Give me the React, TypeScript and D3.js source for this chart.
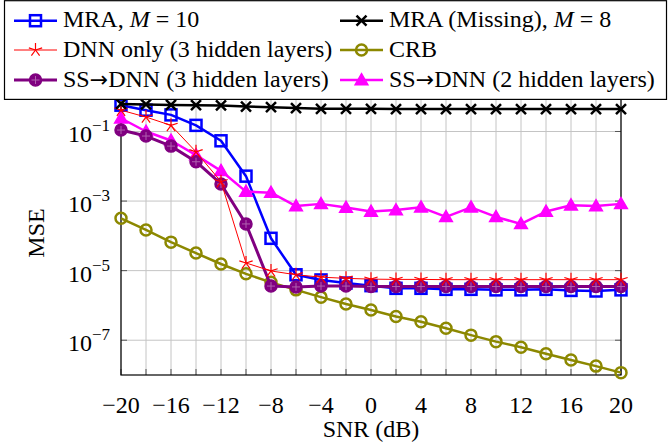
import React from "react";
import * as d3 from "d3";

const snr = [-20, -18, -16, -14, -12, -10, -8, -6, -4, -2, 0, 2, 4, 6, 8, 10, 12, 14, 16, 18, 20];

const mra10 = [0.57, 0.41, 0.3, 0.15, 0.054, 5.2e-3, 8.5e-5, 7.6e-6, 5.4e-6, 4.4e-6, 3.7e-6, 3.1e-6, 3.1e-6, 2.9e-6, 2.9e-6, 2.8e-6, 2.8e-6, 2.9e-6, 2.7e-6, 2.6e-6, 2.8e-6];
const mraMissing = [0.62, 0.6, 0.58, 0.57, 0.56, 0.52, 0.5, 0.47, 0.45, 0.45, 0.45, 0.44, 0.44, 0.44, 0.44, 0.44, 0.44, 0.44, 0.44, 0.44, 0.44];
const dnnOnly = [0.41, 0.26, 0.15, 0.026, 3.6e-3, 1.66e-5, 9.8e-6, 7.6e-6, 6.5e-6, 6.0e-6, 5.7e-6, 5.6e-6, 5.6e-6, 5.5e-6, 5.5e-6, 5.5e-6, 5.5e-6, 5.5e-6, 5.5e-6, 5.5e-6, 5.5e-6];
const crb = [3.2e-4, 1.48e-4, 6.6e-5, 3.2e-5, 1.55e-5, 8.1e-6, 4.6e-6, 2.8e-6, 1.73e-6, 1.1e-6, 7.4e-7, 4.8e-7, 3.4e-7, 2.2e-7, 1.4e-7, 9.1e-8, 6.3e-8, 4.1e-8, 2.7e-8, 1.8e-8, 1.17e-8];
const ss3 = [0.11, 0.074, 0.038, 0.0135, 3.1e-3, 2.2e-4, 3.6e-6, 3.4e-6, 3.6e-6, 3.6e-6, 3.5e-6, 3.5e-6, 3.5e-6, 3.5e-6, 3.5e-6, 3.5e-6, 3.5e-6, 3.5e-6, 3.5e-6, 3.5e-6, 3.5e-6];
const ss2 = [0.24, 0.1, 0.055, 0.021, 7.4e-3, 1.87e-3, 1.74e-3, 7.2e-4, 8.3e-4, 6.5e-4, 5.0e-4, 5.5e-4, 6.6e-4, 3.5e-4, 6.6e-4, 3.5e-4, 2.2e-4, 5.0e-4, 7.6e-4, 7.2e-4, 8.3e-4];

const xTickLabels = [-20, -16, -12, -8, -4, 0, 4, 8, 12, 16, 20];
const yTickExps = [-1, -3, -5, -7];

const serif = { fontFamily: '"Liberation Serif"' };
const arrowFont = { fontFamily: '"DejaVu Sans"' };
const OLIVE = "#8c8800";
const PURPLE = "#800080";

type Mark = "square" | "cross" | "star" | "circle" | "oplus" | "triangle";

const series = [
  { name: "mra10", values: mra10, color: "#0000ff", width: 2.5, mark: "square" as Mark },
  { name: "crb", values: crb, color: OLIVE, width: 2.5, mark: "circle" as Mark },
  { name: "ss2", values: ss2, color: "#ff00ff", width: 2.5, mark: "triangle" as Mark },
  { name: "ss3", values: ss3, color: PURPLE, width: 3, mark: "oplus" as Mark },
  { name: "dnn", values: dnnOnly, color: "#ff0000", width: 1, mark: "star" as Mark },
  { name: "mraMissing", values: mraMissing, color: "#000000", width: 2.5, mark: "cross" as Mark },
];

const Marker = ({ type, x, y, color }: { type: Mark; x: number; y: number; color: string }) => {
  if (type === "square")
    return <rect x={x - 5.5} y={y - 5.5} width={11} height={11} fill="none" stroke={color} strokeWidth={2.5} />;
  if (type === "circle")
    return <circle cx={x} cy={y} r={5.5} fill="none" stroke={color} strokeWidth={2.5} />;
  if (type === "oplus")
    return (
      <g>
        <circle cx={x} cy={y} r={6} fill={color} stroke={color} strokeWidth={1.5} />
        <path d={`M${x - 4},${y}H${x + 4}M${x},${y - 4}V${y + 4}`} stroke="#b060b0" strokeWidth={1} />
      </g>
    );
  if (type === "triangle") {
    const p = d3.symbol(d3.symbolTriangle, 70)();
    return <path d={p || ""} transform={`translate(${x},${y + 1})`} fill={color} stroke={color} strokeWidth={1.5} />;
  }
  if (type === "cross")
    return <path d={`M${x - 5},${y - 5}L${x + 5},${y + 5}M${x - 5},${y + 5}L${x + 5},${y - 5}`} stroke={color} strokeWidth={2.5} />;
  // five-ray star
  const r = 7;
  const d = d3.range(5).map((i) => {
    const a = -Math.PI / 2 + (i * 2 * Math.PI) / 5;
    return `M${x},${y}L${x + r * Math.cos(a)},${y + r * Math.sin(a)}`;
  }).join("");
  return <path d={d} stroke={color} strokeWidth={1.2} />;
};

const Arrow = () => <tspan style={arrowFont} fontSize={22}>→</tspan>;

const legendItems = [
  { label: <>MRA, <tspan fontStyle="italic">M</tspan> = 10</>, color: "#0000ff", width: 2.5, mark: "square" as Mark, col: 0, row: 0 },
  { label: <>MRA (Missing), <tspan fontStyle="italic">M</tspan> = 8</>, color: "#000000", width: 2.5, mark: "cross" as Mark, col: 1, row: 0 },
  { label: <>DNN only (3 hidden layers)</>, color: "#ff0000", width: 1, mark: "star" as Mark, col: 0, row: 1 },
  { label: <>CRB</>, color: OLIVE, width: 2.5, mark: "circle" as Mark, col: 1, row: 1 },
  { label: <>SS<Arrow />DNN (3 hidden layers)</>, color: PURPLE, width: 3, mark: "oplus" as Mark, col: 0, row: 2 },
  { label: <>SS<Arrow />DNN (2 hidden layers)</>, color: "#ff00ff", width: 2.5, mark: "triangle" as Mark, col: 1, row: 2 },
];

export default function App() {
  const width = 668;
  const height = 444;
  const x = d3.scaleLinear().domain([-20, 20]).range([121, 621]);
  const y = d3.scaleLog().domain([1e-8, 1]).range([375, 96.7]);
  const line = d3
    .line<number>()
    .x((_, i) => x(snr[i]))
    .y((v) => y(v));

  const colX = [14, 340];
  const rowY = [20.7, 50, 80];

  return (
    <svg width={width} height={height} style={{ position: "absolute", left: 0, top: 0, background: "#fff" }}>
      {/* grid */}
      {snr.map((s) => (
        <line key={"gx" + s} x1={x(s)} x2={x(s)} y1={y(1)} y2={y(1e-8)} stroke="#c4c4c4" strokeWidth={1} />
      ))}
      {yTickExps.map((e) => (
        <line key={"gy" + e} x1={x(-20)} x2={x(20)} y1={y(Math.pow(10, e))} y2={y(Math.pow(10, e))} stroke="#c4c4c4" strokeWidth={1} />
      ))}
      {/* ticks */}
      {snr.map((s) => (
        <line key={"tx" + s} x1={x(s)} x2={x(s)} y1={y(1e-8)} y2={y(1e-8) - 6} stroke="#555" strokeWidth={1} />
      ))}
      {yTickExps.map((e) => (
        <g key={"ty" + e}>
          <line x1={x(-20)} x2={x(-20) + 6} y1={y(Math.pow(10, e))} y2={y(Math.pow(10, e))} stroke="#555" />
          <line x1={x(20)} x2={x(20) - 6} y1={y(Math.pow(10, e))} y2={y(Math.pow(10, e))} stroke="#555" />
        </g>
      ))}
      <rect x={x(-20)} y={y(1)} width={x(20) - x(-20)} height={y(1e-8) - y(1)} fill="none" stroke="#000" strokeWidth={1.2} />

      {/* tick labels */}
      {xTickLabels.map((t) => (
        <text key={"lx" + t} x={x(t)} y={413} textAnchor="middle" fontSize={24} fill="#000" style={serif}>
          {t < 0 ? "−" + Math.abs(t) : t}
        </text>
      ))}
      {yTickExps.map((e) => (
        <text key={"ly" + e} x={110} y={y(Math.pow(10, e)) + 11} textAnchor="end" fontSize={24} fill="#000" style={serif}>
          10<tspan fontSize={17} dy={-11}>{"−" + Math.abs(e)}</tspan>
        </text>
      ))}
      <text x={371} y={437} textAnchor="middle" fontSize={24} fill="#000" style={serif}>SNR (dB)</text>
      <text transform="translate(44,233) rotate(-90)" textAnchor="middle" fontSize={24} fill="#000" style={serif}>MSE</text>

      {/* series */}
      {series.map((s) => (
        <g key={s.name}>
          <path d={line(s.values) || ""} fill="none" stroke={s.color} strokeWidth={s.width} strokeLinejoin="round" />
          {s.values.map((v, i) => (
            <Marker key={i} type={s.mark} x={x(snr[i])} y={y(v)} color={s.color} />
          ))}
        </g>
      ))}

      {/* legend */}
      <rect x={4.5} y={0.7} width={662} height={98.7} fill="#fff" stroke="#000" strokeWidth={1.2} />
      {legendItems.map((it, i) => {
        const lx = colX[it.col];
        const ly = rowY[it.row];
        return (
          <g key={i}>
            <line x1={lx} x2={lx + 43} y1={ly} y2={ly} stroke={it.color} strokeWidth={it.width} />
            <Marker type={it.mark} x={lx + 21.5} y={ly} color={it.color} />
            <text x={lx + 49} y={ly + 6.5} fontSize={24} fill="#000" style={serif}>{it.label}</text>
          </g>
        );
      })}
    </svg>
  );
}
